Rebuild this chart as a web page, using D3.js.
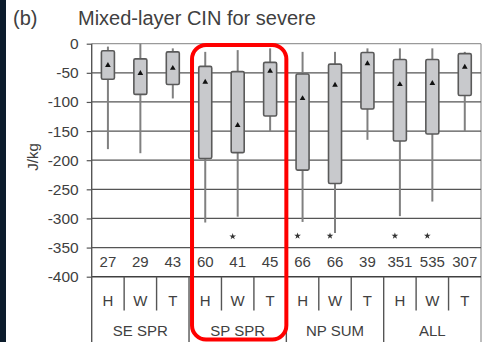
<!DOCTYPE html>
<html>
<head>
<meta charset="utf-8">
<script src="https://cdn.jsdelivr.net/npm/d3@7/dist/d3.min.js"></script>
<style>
  html, body { margin: 0; padding: 0; background: #ffffff; }
  svg { display: block; font-family: "Liberation Sans", Arial, sans-serif; }
</style>
</head>
<body>
<svg id="chart" width="497" height="342"></svg>
<script>
// Mixed-layer CIN distributions by region/season and environment type
const groups = ["SE SPR", "SP SPR", "NP SUM", "ALL"];
const types = ["H", "W", "T"];
const counts = [27, 29, 43, 60, 41, 45, 66, 66, 39, 351, 535, 307];
const whiskerTop = [-5, 0, -8, -14, -11, -8, -14, -14, -8, -8, -8, -14];
const boxTop = [-12, -26, -14, -39, -48, -32, -52, -35, -15, -27, -27, -17];
const means = [-37, -51, -42, -66, -140, -47, -94, -71, -34, -70, -68, -40];
const boxBottom = [-61, -87, -70, -197, -187, -124, -217, -240, -112, -167, -155, -89];
const whiskerBottom = [-181, -188, -94, -307, -297, -151, -306, -325, -165, -296, -271, -151];
const outliers = [null, null, null, null, -331, null, -330, -330, null, -330, -330, null];
const yTicks = [0, -50, -100, -150, -200, -250, -300, -350, -400];
const highlightGroup = "SP SPR";

const svg = d3.select("#chart");
const textColor = "#404040";

const plotLeft = 91.7, plotRight = 481, plotTop = 43.7, plotBottom = 276.7;

const cells = [];
groups.forEach(g => types.forEach(t => cells.push(g + "|" + t)));

const x = d3.scaleBand().domain(cells).range([plotLeft, plotRight]).paddingInner(0).paddingOuter(0);
const xg = d3.scaleBand().domain(groups).range([plotLeft, plotRight]);
const y = d3.scaleLinear().domain([0, -400]).range([plotTop, plotBottom]);

// dark strip along the left edge
svg.append("rect").attr("x", 0).attr("y", 0).attr("width", 6).attr("height", 342).attr("fill", "#0c1c2c");

// title
svg.append("text").attr("x", 13).attr("y", 25).attr("font-size", 20).attr("fill", textColor).text("(b)");
svg.append("text").attr("x", 78).attr("y", 25).attr("font-size", 20).attr("fill", textColor).text("Mixed-layer CIN for severe");

// frame: top and right borders
svg.append("line").attr("x1", plotLeft).attr("x2", plotRight).attr("y1", y(0)).attr("y2", y(0))
  .attr("stroke", "#9a9a9a").attr("stroke-width", 1.3);
svg.append("line").attr("x1", plotRight).attr("x2", plotRight).attr("y1", y(0)).attr("y2", 342)
  .attr("stroke", "#9a9a9a").attr("stroke-width", 1.3);

// horizontal gridlines
svg.append("g").selectAll("line").data(yTicks.filter(d => d !== 0)).join("line")
  .attr("x1", plotLeft).attr("x2", plotRight)
  .attr("y1", d => y(d)).attr("y2", d => y(d))
  .attr("stroke", d => d === -400 ? "#404040" : "#555")
  .attr("stroke-width", d => d === -400 ? 1.6 : 1.3);

// y axis
const yAxis = d3.axisLeft(y).tickValues(yTicks).tickSize(5).tickPadding(8).tickFormat(d => String(d));
const ag = svg.append("g").attr("transform", `translate(${plotLeft},0)`).call(yAxis);
ag.select(".domain").remove();
ag.append("line").attr("x1", 0).attr("x2", 0).attr("y1", plotTop).attr("y2", 342).attr("stroke", "#555").attr("stroke-width", 1.4);
ag.selectAll(".tick line").attr("stroke", "#555").attr("stroke-width", 1.2);
ag.selectAll(".tick text").attr("font-size", 15.5).attr("fill", textColor).attr("font-family", "Liberation Sans, Arial, sans-serif");

// y axis title
svg.append("text").attr("transform", "translate(38,157) rotate(-90)")
  .attr("text-anchor", "middle").attr("font-size", 15).attr("fill", textColor).text("J/kg");

// box plots
const bw = 13;
const boxes = svg.append("g").selectAll("g").data(cells).join("g")
  .attr("transform", d => `translate(${x(d) + x.bandwidth() / 2},0)`);

boxes.append("line")
  .attr("x1", 0).attr("x2", 0)
  .attr("y1", (d, i) => y(whiskerTop[i])).attr("y2", (d, i) => y(whiskerBottom[i]))
  .attr("stroke", "#808080").attr("stroke-width", 2);

boxes.append("rect")
  .attr("x", -bw / 2).attr("width", bw)
  .attr("y", (d, i) => y(boxTop[i]))
  .attr("height", (d, i) => y(boxBottom[i]) - y(boxTop[i]))
  .attr("rx", 1.5)
  .attr("fill", "#c8c9cc").attr("stroke", "#5a5a5a").attr("stroke-width", 1.6);

boxes.append("path")
  .attr("d", d3.symbol(d3.symbolTriangle, 14))
  .attr("transform", (d, i) => `translate(0,${y(means[i])})`)
  .attr("fill", "#111");

boxes.filter((d, i) => outliers[i] !== null).append("path")
  .attr("d", d3.symbol(d3.symbolStar, 14))
  .attr("transform", d => {
    const i = cells.indexOf(d);
    return `translate(-5,${y(outliers[i])})`;
  })
  .attr("fill", "#333");

// sample counts
svg.append("g").selectAll("text").data(cells).join("text")
  .attr("x", d => x(d) + x.bandwidth() / 2).attr("y", 267)
  .attr("text-anchor", "middle").attr("font-size", 15).attr("fill", textColor)
  .text((d, i) => counts[i]);

// category table below the axis
const tableBottom = 342;
svg.append("g").selectAll("line").data(cells.slice(1)).join("line")
  .attr("x1", d => x(d)).attr("x2", d => x(d))
  .attr("y1", y(-400))
  .attr("y2", d => d.endsWith("|H") ? tableBottom : 310.5)
  .attr("stroke", "#555").attr("stroke-width", 1.4);

svg.append("g").selectAll("text").data(cells).join("text")
  .attr("x", d => x(d) + x.bandwidth() / 2).attr("y", 306)
  .attr("text-anchor", "middle").attr("font-size", 15).attr("fill", textColor)
  .text(d => d.split("|")[1]);

svg.append("g").selectAll("text").data(groups).join("text")
  .attr("x", d => xg(d) + xg.bandwidth() / 2).attr("y", 336)
  .attr("text-anchor", "middle").attr("font-size", 15).attr("fill", textColor)
  .text(d => d);

// highlight around one group
const hx0 = xg(highlightGroup), hx1 = xg(highlightGroup) + xg.bandwidth();
svg.append("rect")
  .attr("x", hx0 + 3).attr("y", 45)
  .attr("width", hx1 - hx0 - 3).attr("height", 294.5)
  .attr("rx", 14).attr("ry", 14)
  .attr("fill", "none").attr("stroke", "#ff0000").attr("stroke-width", 4);
</script>
</body>
</html>
